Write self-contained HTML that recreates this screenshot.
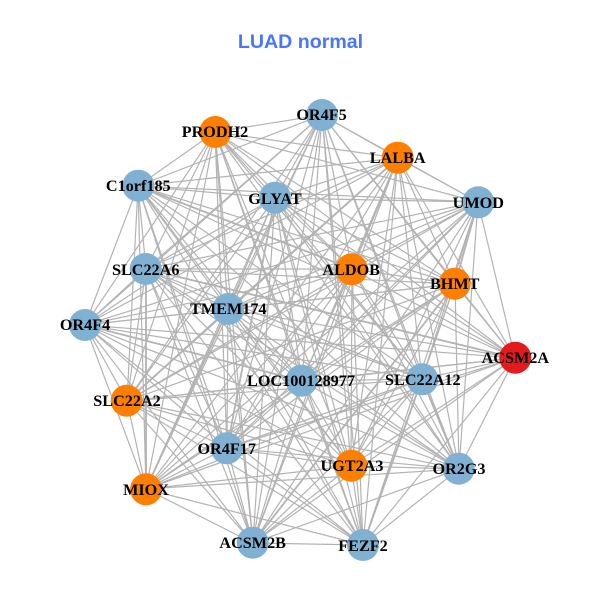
<!DOCTYPE html>
<html><head><meta charset="utf-8"><style>
html,body{margin:0;padding:0;background:#fff;width:600px;height:600px;overflow:hidden}
svg{display:block}
.n{font:bold 16.2px "Liberation Serif",serif;text-anchor:middle;fill:#000}
</style></head><body>
<svg width="600" height="600" viewBox="0 0 600 600" xmlns="http://www.w3.org/2000/svg">
<rect width="600" height="600" fill="#fff"/>
<text x="300.5" y="48" style="font:bold 19.6px 'Liberation Sans',sans-serif;text-anchor:middle" fill="#4876FF">LUAD normal</text>
<g fill="none" stroke="#B3B3B3" stroke-width="1.2">
<path d="M322 115L398 158L478 202L455 284L515 358L422 379L459 469L351 466L363 545L253 543L227 448L146 489L127 401L85 325L146 269L138 186L215 132L275 198L352 269L228 309L302 381L322 115"/>
<path d="M322 115L478 202L515 358L459 469L363 545L227 448L127 401L146 269L215 132L352 269L302 381L398 158L455 284L422 379L351 466L253 543L146 489L85 325L138 186L275 198L228 309L322 115"/>
<path d="M322 115L455 284L459 469L253 543L127 401L138 186L352 269L322 115M398 158L515 358L351 466L227 448L85 325L215 132L228 309L398 158M478 202L422 379L363 545L146 489L146 269L275 198L302 381L478 202"/>
<path d="M322 115L515 358L363 545L127 401L215 132L302 381L455 284L351 466L146 489L138 186L228 309L478 202L459 469L227 448L146 269L352 269L398 158L422 379L253 543L85 325L275 198L322 115"/>
<path d="M322 115L422 379L227 448L138 186L302 381L515 358L253 543L146 269L228 309L455 284L363 545L85 325L352 269L478 202L351 466L127 401L275 198L398 158L459 469L146 489L215 132L322 115"/>
<path d="M322 115L459 469L127 401L352 269L455 284L253 543L138 186L322 115M398 158L351 466L85 325L228 309L515 358L227 448L215 132L398 158M478 202L363 545L146 269L302 381L422 379L146 489L275 198L478 202"/>
<path d="M322 115L351 466L146 269L322 115M398 158L363 545L138 186L398 158M478 202L253 543L215 132L478 202M455 284L227 448L275 198L455 284M515 358L146 489L352 269L515 358M422 379L127 401L228 309L422 379M459 469L85 325L302 381L459 469"/>
<path d="M322 115L363 545L215 132L455 284L146 489L228 309L459 469L146 269L398 158L253 543L275 198L515 358L127 401L302 381L351 466L138 186L478 202L227 448L352 269L422 379L85 325L322 115"/>
<path d="M322 115L253 543L352 269L459 469L138 186L455 284L127 401L322 115M398 158L227 448L228 309L351 466L215 132L515 358L85 325L398 158M478 202L146 489L302 381L363 545L275 198L422 379L146 269L478 202"/>
<path d="M322 115L227 448L302 381L253 543L228 309L363 545L352 269L351 466L275 198L459 469L215 132L422 379L138 186L515 358L146 269L455 284L85 325L478 202L127 401L398 158L146 489L322 115"/>
</g>
<g fill="none" stroke="#B3B3B3" stroke-width="1.8">
<path d="M422 379L363 545M146 489L228 309M398 158L352 269M478 202L455 284M146 269L515 358M85 325L302 381M398 158L127 401M455 284L253 543M146 489L146 269M275 198L227 448M138 186L352 269M422 379L459 469"/>
</g>
<g>
<circle cx="322" cy="115" r="16" fill="#80B1D3"/>
<circle cx="215.3" cy="132" r="16" fill="#FF7F00"/>
<circle cx="397.7" cy="157.7" r="16" fill="#FF7F00"/>
<circle cx="138.3" cy="185.7" r="16" fill="#80B1D3"/>
<circle cx="275" cy="197.7" r="16" fill="#80B1D3"/>
<circle cx="478.3" cy="202.3" r="16" fill="#80B1D3"/>
<circle cx="145.7" cy="269" r="16" fill="#80B1D3"/>
<circle cx="351.7" cy="269.3" r="16" fill="#FF7F00"/>
<circle cx="454.7" cy="283.7" r="16" fill="#FF7F00"/>
<circle cx="228.3" cy="309" r="16" fill="#80B1D3"/>
<circle cx="85" cy="325" r="16" fill="#80B1D3"/>
<circle cx="515.3" cy="357.7" r="16" fill="#E41A1C"/>
<circle cx="301.6" cy="380.7" r="16" fill="#80B1D3"/>
<circle cx="422.3" cy="379.3" r="16" fill="#80B1D3"/>
<circle cx="126.7" cy="400.7" r="16" fill="#FF7F00"/>
<circle cx="226.7" cy="448.3" r="16" fill="#80B1D3"/>
<circle cx="351.3" cy="465.7" r="16" fill="#FF7F00"/>
<circle cx="458.7" cy="468.7" r="16" fill="#80B1D3"/>
<circle cx="146" cy="489.3" r="16" fill="#FF7F00"/>
<circle cx="252.7" cy="542.7" r="16" fill="#80B1D3"/>
<circle cx="363" cy="545" r="16" fill="#80B1D3"/>
</g>
<g class="labels">
<text class="n" x="321.5" y="120">OR4F5</text>
<text class="n" x="215" y="137">PRODH2</text>
<text class="n" x="397.7" y="163">LALBA</text>
<text class="n" x="138.3" y="191">C1orf185</text>
<text class="n" x="275" y="204">GLYAT</text>
<text class="n" x="478.3" y="208">UMOD</text>
<text class="n" x="145.7" y="275">SLC22A6</text>
<text class="n" x="351.2" y="275">ALDOB</text>
<text class="n" x="454.7" y="289">BHMT</text>
<text class="n" x="228.3" y="314">TMEM174</text>
<text class="n" x="85" y="330">OR4F4</text>
<text class="n" x="515.3" y="363">ACSM2A</text>
<text class="n" x="301" y="386">LOC100128977</text>
<text class="n" x="422.8" y="385">SLC22A12</text>
<text class="n" x="127" y="406">SLC22A2</text>
<text class="n" x="226.7" y="454">OR4F17</text>
<text class="n" x="352" y="471">UGT2A3</text>
<text class="n" x="459" y="474">OR2G3</text>
<text class="n" x="146" y="495">MIOX</text>
<text class="n" x="252.7" y="548">ACSM2B</text>
<text class="n" x="363" y="551">FEZF2</text>
</g>
</svg>
</body></html>
